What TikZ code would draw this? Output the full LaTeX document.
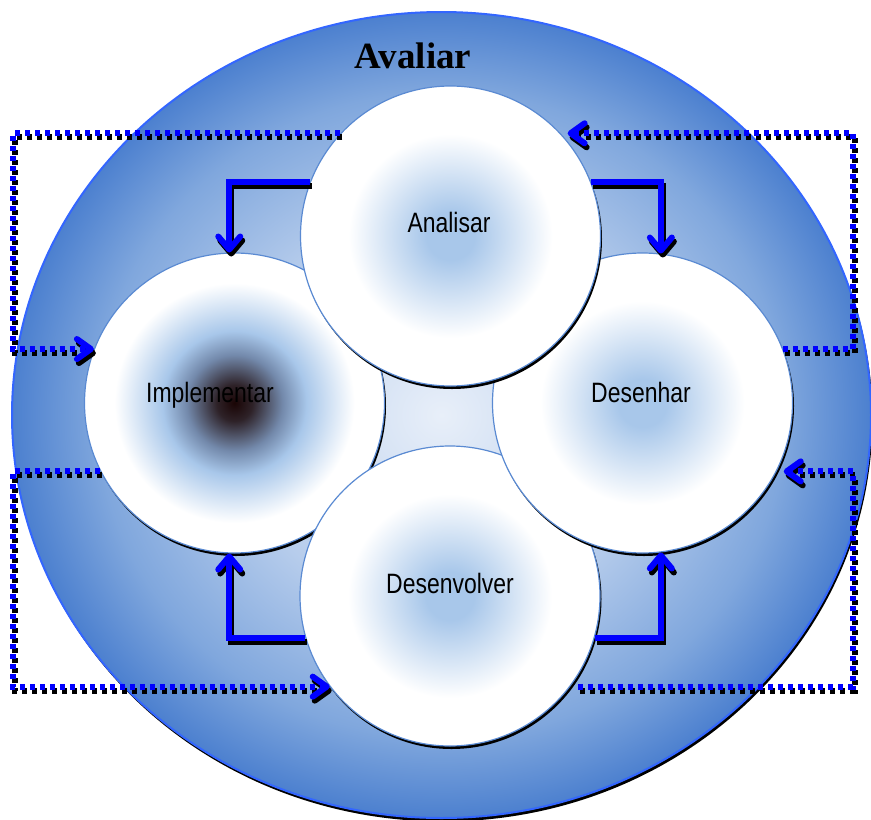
\documentclass[tikz,border=0pt]{standalone}
\usepackage{fontspec}
\setmainfont{Liberation Serif}
\newfontfamily\lblfont[FakeStretch=0.82]{Liberation Sans}
\usetikzlibrary{arrows.meta,shadows}

\definecolor{bgA}{HTML}{E8EFF9}
\definecolor{bgB}{HTML}{B7CDEC}
\definecolor{bgC}{HTML}{80A7DD}
\definecolor{bgD}{HTML}{4C80CF}
\definecolor{elborder}{HTML}{3366FF}
\definecolor{cedge}{HTML}{5A8AD2}
\definecolor{cblue}{HTML}{A8C7EA}
\definecolor{dkA}{HTML}{1A0505}
\definecolor{dkB}{HTML}{2E2228}
\definecolor{dkC}{HTML}{7389AB}
\definecolor{arrblue}{HTML}{0000FF}

\pgfdeclareradialshading{bigsh}{\pgfpointorigin}{color(0bp)=(bgA); color(12bp)=(bgB); color(20bp)=(bgC); color(25bp)=(bgD); color(50bp)=(bgD)}
\pgfdeclareradialshading{circsh}{\pgfpointorigin}{color(0bp)=(cblue); color(4bp)=(cblue); color(17bp)=(white); color(25bp)=(white); color(50bp)=(white)}
\pgfdeclareradialshading{impsh}{\pgfpointorigin}{color(0bp)=(dkA); color(3bp)=(dkB); color(8bp)=(dkC); color(12bp)=(cblue); color(20bp)=(white); color(25bp)=(white); color(50bp)=(white)}

\tikzset{
  disc/.style={circle, minimum size=300pt, inner sep=0pt, draw=cedge, line width=1.2pt,
    shade, shading=circsh,
    drop shadow={opacity=1, fill=black, shadow xshift=1.5pt, shadow yshift=-3pt}},
  lbl/.style={anchor=base, font=\lblfont\fontsize{28}{30}\selectfont, text=black},
  solidarrow/.style={line width=6pt, line join=miter, -{Straight Barb[length=13pt,width=22pt,round]}},
  dotarrow/.style={line width=6pt, dash pattern=on 5pt off 5pt, -{Straight Barb[length=14pt,width=20pt,round]}},
  shad/.style={draw=black, transform canvas={shift={(2pt,-4pt)}}},
  blueline/.style={draw=arrblue}
}

\begin{document}
\begin{tikzpicture}[x=1pt,y=-1pt]
\useasboundingbox (0,0) rectangle (871,820);

% outer ellipse (Avaliar)
\fill[black] (443,418.5) ellipse [x radius=429.5, y radius=403];
\shade[shading=bigsh, draw=elborder, line width=2pt] (441.5,415) ellipse [x radius=429.5, y radius=403];
\node[anchor=base, font=\bfseries\fontsize{37}{40}\selectfont] (title) at (413,68) {Avaliar};

% helper x positions of the dotted frames
\coordinate (L) at (13,0);
\coordinate (R) at (853,0);

% circles
\node[disc, shading=impsh] (im) at (234.5,403) {};
\node[disc] (dv) at (450,596) {};
\node[disc] (de) at (642.5,403) {};
\node[disc] (an) at (450.5,236) {};

\node[lbl] (tim) at (210,402) {Implementar};
\node[lbl] (tan) at (449,232) {Analisar};
\node[lbl] (tde) at (641,402) {Desenhar};
\node[lbl] (tdv) at (450,593) {Desenvolver};

% connectors
\foreach \sty in {shad,blueline}{
  \draw[solidarrow,\sty] (an.159) -| (im.92);
  \draw[solidarrow,\sty] (an.21) -| (de.83);
  \draw[solidarrow,\sty] (dv.196) -| (im.268);
  \draw[solidarrow,\sty] (dv.-16) -| (de.277);
  \draw[dotarrow,\sty] (an.137) -- (an.137 -| L) |- (im.159);
  \draw[dotarrow,\sty,shorten >=7pt] (de.21) -- (de.21 -| R) |- (an.43);
  \draw[dotarrow,\sty] (im.207) -- (im.207 -| L) |- (dv.217);
  \draw[dotarrow,\sty,shorten >=7pt,shorten <=8pt] (dv.-37) -- (dv.-37 -| R) |- (de.-27);
}
\end{tikzpicture}
\end{document}
